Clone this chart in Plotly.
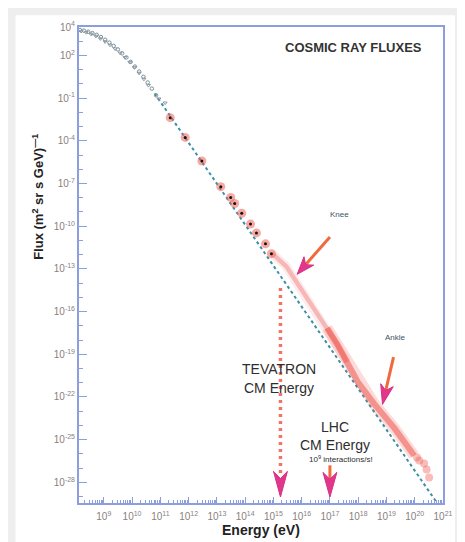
import numpy as np
import plotly.graph_objects as go

# ---------------- data (log10 values) ----------------
# low-energy spectrum (open grey markers), two interleaved data sets
low_a_logE = [8.16, 8.30, 8.45, 8.60, 8.75, 8.90, 9.05, 9.20, 9.35, 9.50, 9.65, 9.80,
              9.95, 10.10, 10.25, 10.40, 10.55, 10.70, 10.85]
low_a_logF = [3.79, 3.74, 3.67, 3.57, 3.45, 3.29, 3.10, 2.90, 2.67, 2.42, 2.15, 1.86,
              1.55, 1.22, 0.87, 0.50, 0.10, -0.33, -0.80]
low_b_logE = [8.20, 8.38, 8.55, 8.72, 8.88, 9.05, 9.22, 9.40, 9.58, 9.75, 9.92, 10.08,
              10.25, 10.42, 10.58, 10.95, 11.17]
low_b_logF = [3.70, 3.62, 3.50, 3.36, 3.18, 2.97, 2.74, 2.47, 2.17, 1.86, 1.52, 1.15,
              0.76, 0.34, -0.10, -1.05, -1.33]

# direct measurements (black dots with red halo)
dots_logE = [11.35, 11.88, 12.47, 13.14, 13.49, 13.63, 13.88, 14.19, 14.40, 14.72, 14.93]
dots_logF = [-2.37, -3.76, -5.42, -7.22, -7.98, -8.40, -9.09, -9.85, -10.47, -11.24, -11.93]

# air-shower data band (knee region, lighter) and (ankle region, darker)
knee_band_logE = [14.93, 15.04, 15.46, 15.88, 16.58, 17.28, 17.60]
knee_band_logF = [-11.95, -12.07, -12.83, -14.14, -16.29, -18.37, -19.55]
ankle_band_logE = [16.90, 17.28, 17.98, 18.58, 19.28, 19.74, 19.98]
ankle_band_logF = [-17.15, -18.37, -20.93, -22.52, -24.19, -25.57, -26.12]
tail_logE = [20.08, 20.16, 20.33, 20.42, 20.51]
tail_logF = [-26.25, -26.47, -26.68, -27.10, -27.65]

# power-law reference (dotted line)
fit_logE = [10.80, 20.79]
fit_logF = [-0.67, -29.45]

# tick labels
x_tick_exp = list(range(9, 22))
y_tick_exp = [4, 2, -1, -4, -7, -10, -13, -16, -19, -22, -25, -28]

# ---------------- axes geometry ----------------
XR = [8.123, 21.0]
YR = [-29.45, 4.0]
PLOT_W, PLOT_H = 367, 483
SX = PLOT_W / (XR[1] - XR[0])
SY = PLOT_H / (YR[1] - YR[0])
BODY = 8  # the html body margin offsets the figure by 8 px

E = lambda v: np.power(10.0, np.array(v, dtype=float))

fig = go.Figure()

# white card on light grey background
fig.add_shape(type="rect", xref="paper", yref="paper",
              x0=(15 - 79) / PLOT_W, x1=(458 - 79) / PLOT_W,
              y0=1 - (545 - 20) / PLOT_H, y1=1 + (20 - 8) / PLOT_H,
              fillcolor="white", line=dict(width=0), layer="below")

# dotted power law
fig.add_trace(go.Scatter(x=E(fit_logE), y=E(fit_logF), mode="lines",
                         line=dict(color="#3c8ea6", width=2, dash="dot"),
                         hoverinfo="skip"))

# low-energy open markers
fig.add_trace(go.Scatter(x=E(low_a_logE), y=E(low_a_logF), mode="markers",
                         marker=dict(symbol="circle-open", size=3.5, color="#7d8f99",
                                     line=dict(width=1))))
fig.add_trace(go.Scatter(x=E(low_b_logE), y=E(low_b_logF), mode="markers",
                         marker=dict(symbol="triangle-down-open", size=3.5, color="#8c9aa2",
                                     line=dict(width=1))))

# bands (diffuse halo + core)
fig.add_trace(go.Scatter(x=E(knee_band_logE), y=E(knee_band_logF), mode="lines",
                         line=dict(color="rgba(246,170,170,0.22)", width=9)))
fig.add_trace(go.Scatter(x=E(ankle_band_logE), y=E(ankle_band_logF), mode="lines",
                         line=dict(color="rgba(240,90,80,0.22)", width=11)))
fig.add_trace(go.Scatter(x=E(knee_band_logE), y=E(knee_band_logF), mode="lines",
                         line=dict(color="rgba(244,140,140,0.55)", width=4.5)))
fig.add_trace(go.Scatter(x=E(ankle_band_logE), y=E(ankle_band_logF), mode="lines",
                         line=dict(color="rgba(236,60,50,0.45)", width=6)))
fig.add_trace(go.Scatter(x=E(tail_logE), y=E(tail_logF), mode="markers",
                         marker=dict(size=8, color="rgba(240,90,80,0.40)")))

# halo dots
fig.add_trace(go.Scatter(x=E(dots_logE), y=E(dots_logF), mode="markers",
                         marker=dict(size=9, color="rgba(238,100,90,0.55)")))
fig.add_trace(go.Scatter(x=E(dots_logE), y=E(dots_logF), mode="markers",
                         marker=dict(size=3, color="#111111")))


# ---------------- arrows ----------------
def head(tip, start, L, W):
    """Swept arrow head at tip, pointing away from start; sizes in pixels."""
    tx, ty = tip[0] * SX, -tip[1] * SY
    sx, sy = start[0] * SX, -start[1] * SY
    dx, dy = tx - sx, ty - sy
    n = np.hypot(dx, dy)
    ux, uy = dx / n, dy / n
    nx, ny = -uy, ux
    bx, by = tx - L * ux, ty - L * uy
    mx, my = tx - 0.72 * L * ux, ty - 0.72 * L * uy
    pts = [(tx, ty), (bx + W / 2 * nx, by + W / 2 * ny), (mx, my),
           (bx - W / 2 * nx, by - W / 2 * ny), (tx, ty)]
    xs = [p[0] / SX for p in pts]
    ys = [-p[1] / SY for p in pts]
    stem_end = (mx / SX, -my / SY)
    return xs, ys, stem_end


arrows = [
    # start, tip, length, width, stem style
    ((17.00, -10.75), (15.84, -13.38), 18, 13, "solid"),
    ((19.25, -19.20), (18.86, -22.52), 20, 13, "solid"),
    ((15.25, -14.35), (15.25, -29.03), 26, 14, "dotted"),
    ((17.00, -26.80), (17.00, -29.03), 25, 14, "solid"),
]
for start, tip, L, W, style in arrows:
    hx, hy, se = head(tip, start, L, W)
    if style == "dotted":
        fig.add_trace(go.Scatter(x=E([start[0], se[0]]), y=E([start[1], se[1] + 0.3]),
                                 mode="lines",
                                 line=dict(color="#f07468", width=3.5, dash="3px,4px")))
    else:
        fig.add_trace(go.Scatter(x=E([start[0], se[0]]), y=E([start[1], se[1]]),
                                 mode="lines", line=dict(color="#ef6a3c", width=3)))
    fig.add_trace(go.Scatter(x=E(hx), y=E(hy), mode="lines", fill="toself",
                             fillcolor="#e2358e", line=dict(color="#d8307f", width=1)))

# ---------------- texts ----------------
txt = "#2e2e2e"
ann = [
    dict(x=17.84, y=2.55, text="COSMIC RAY FLUXES", size=13, color="#333333", bold=True),
    dict(x=15.21, y=-20.03, text="TEVATRON", size=14, color=txt),
    dict(x=15.21, y=-21.35, text="CM Energy", size=14, color=txt),
    dict(x=17.18, y=-24.12, text="LHC", size=14, color=txt),
    dict(x=17.18, y=-25.36, text="CM Energy", size=14, color=txt),
    dict(x=17.40, y=-26.33, text="10<sup>9</sup> interactions/s!", size=8, color=txt),
    dict(x=17.35, y=-9.16, text="Knee", size=8, color="#3d5566"),
    dict(x=19.32, y=-17.80, text="Ankle", size=8, color="#3d5566"),
]
for a in ann:
    t = "<b>%s</b>" % a["text"] if a.get("bold") else a["text"]
    fig.add_annotation(x=a["x"], y=a["y"], xref="x", yref="y", text=t, showarrow=False,
                       xanchor="center", yanchor="middle",
                       font=dict(size=a["size"], color=a["color"],
                                 family="Liberation Sans, Arial, sans-serif"))

fig.add_annotation(xref="paper", yref="paper", x=(262 - 79) / PLOT_W, y=-(530 - 503) / PLOT_H,
                   xanchor="center", yanchor="middle",
                   text="<b>Energy (eV)</b>", showarrow=False,
                   font=dict(size=14, color="#222222", family="Liberation Sans, Arial, sans-serif"))
fig.add_annotation(xref="paper", yref="paper", x=(37 - 79) / PLOT_W, y=1 - (192 - 20) / PLOT_H,
                   xanchor="center", yanchor="middle",
                   text="<b>Flux (m<sup>2</sup> sr s GeV)<sup>—1</sup></b>", showarrow=False,
                   textangle=-90,
                   font=dict(size=13, color="#222222", family="Liberation Sans, Arial, sans-serif"))

axis_col = "#8d9ee0"
tick_font = dict(size=10, color="#8a7f80", family="Liberation Sans, Arial, sans-serif")

x_minor = [m * 10.0 ** k for k in range(8, 21) for m in range(2, 10)
           if XR[0] < np.log10(m * 10.0 ** k) < XR[1]]
y_minor = [10.0 ** k for k in range(-29, 4)]

fig.update_xaxes(type="log", range=XR, showgrid=False, zeroline=False,
                 showline=True, linecolor=axis_col, linewidth=2, mirror=True,
                 ticks="inside", ticklen=6, tickcolor=axis_col, tickwidth=1,
                 tickvals=[10.0 ** k for k in x_tick_exp],
                 ticktext=["10<sup>%d</sup>" % k for k in x_tick_exp],
                 tickfont=tick_font, ticklabelstandoff=3,
                 minor=dict(tickvals=x_minor, ticks="inside", ticklen=3,
                            tickcolor=axis_col, showgrid=False))
fig.update_yaxes(type="log", range=YR, showgrid=False, zeroline=False,
                 showline=True, linecolor=axis_col, linewidth=2, mirror=True,
                 ticks="inside", ticklen=8, tickcolor=axis_col, tickwidth=1,
                 tickvals=[10.0 ** k for k in y_tick_exp],
                 ticktext=["10<sup>%d</sup>" % k for k in y_tick_exp],
                 tickfont=tick_font,
                 minor=dict(tickvals=y_minor, ticks="inside", ticklen=4,
                            tickcolor=axis_col, showgrid=False))

fig.update_layout(width=465 - BODY, height=542 - BODY, showlegend=False,
                  margin=dict(l=79 - BODY, r=19, t=20 - BODY, b=39),
                  paper_bgcolor="#eeeeee", plot_bgcolor="white")

fig.write_html("out.html")
